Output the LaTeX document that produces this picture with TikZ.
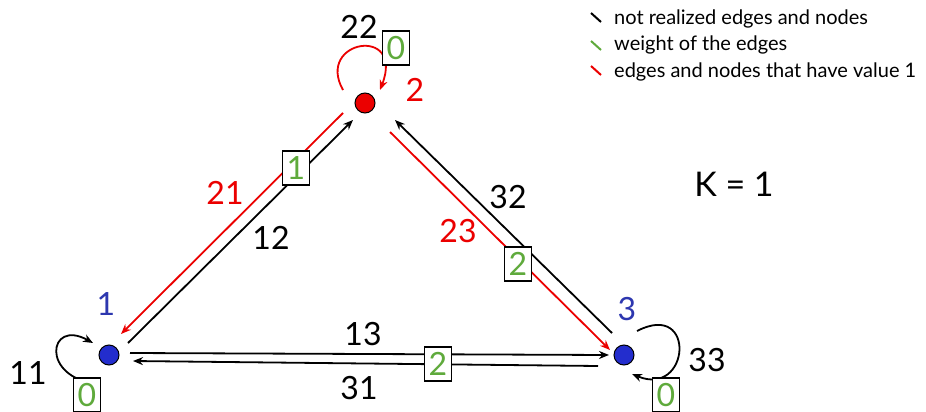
\documentclass[tikz,border=0pt]{standalone}
\usepackage{fontspec}
\setmainfont{Lato}
\usetikzlibrary{arrows.meta}
\definecolor{gr}{RGB}{95,170,60}
\definecolor{rd}{RGB}{235,0,0}
\definecolor{bl}{RGB}{35,45,205}
\definecolor{bltxt}{RGB}{45,55,175}
\begin{document}
\begin{tikzpicture}[x=1pt,y=-1pt,
  edge/.style={line width=1.8pt,-{Stealth[length=10pt,width=8pt]}},
  dot/.style={circle,draw=black,line width=1pt,minimum size=20pt,inner sep=0pt},
  num/.style={inner sep=0pt,font=\fontsize{32}{34}\selectfont},
  wbox/.style={draw=black,line width=1.2pt,fill=white,text=gr,minimum width=27pt,minimum height=34pt,inner sep=0pt,font=\fontsize{32}{34}\selectfont},
  leg/.style={anchor=west,inner sep=0pt,font=\fontsize{20}{22}\selectfont},
  legstroke/.style={line width=2pt}]
\useasboundingbox (0,0) rectangle (926,412);
% nodes
\node[dot,fill=bl] (n1) at (109,355) {};
\node[dot,fill=rd] (n2) at (365,103) {};
\node[dot,fill=bl] (n3) at (624,355) {};
% edge endpoints
\coordinate (a12) at (128,343); \coordinate (b12) at (353,120);
\coordinate (a21) at (343,113); \coordinate (b21) at (121,334);
\coordinate (a32) at (612,333); \coordinate (b32) at (395,120);
\coordinate (a23) at (390,132); \coordinate (b23) at (610,350);
\coordinate (a13) at (130,353); \coordinate (b13) at (609,355);
\coordinate (a31) at (598,366); \coordinate (b31) at (133,361);
\coordinate (l1a) at (98,384); \coordinate (l1b) at (93,343);
\coordinate (l2a) at (343,90); \coordinate (l2b) at (380,90);
\coordinate (l3a) at (637,331); \coordinate (l3b) at (632,374);
% edges
\draw[edge] (a12) -- (b12);
\draw[edge,rd] (a21) -- (b21);
\draw[edge] (a32) -- (b32);
\draw[edge,rd] (a23) -- (b23);
\draw[edge] (a13) -- (b13);
\draw[edge] (a31) -- (b31);
% loops
\draw[edge] (l1a) .. controls (40,378) and (48,318) .. (l1b);
\draw[edge,rd] (l2a) .. controls (315,40) and (405,25) .. (l2b);
\draw[edge] (l3a) .. controls (697,300) and (690,398) .. (l3b);
% weight boxes
\node[wbox] (w12) at (296,168) {1};
\node[wbox] (w23) at (518,264) {2};
\node[wbox] (w13) at (438,364) {2};
\node[wbox] (w11) at (87,395) {0};
\node[wbox] (w22) at (396,48) {0};
\node[wbox] (w33) at (666,395) {0};
% labels
\node[num,text=bltxt] (t1) at (106,304) {1};
\node[num,text=rd] (t2) at (415,90) {2};
\node[num,text=bltxt] (t3) at (627,309) {3};
\node[num] (t22) at (359,27) {22};
\node[num] (t12) at (271,238) {12};
\node[num,text=rd] (t21) at (225,193) {21};
\node[num] (t32) at (508,197) {32};
\node[num,text=rd] (t23) at (458,231) {23};
\node[num] (t13) at (363,334) {13};
\node[num] (t31) at (359,388) {31};
\node[num] (t11) at (28,373) {11};
\node[num] (t33) at (707,360) {33};
\node[inner sep=0pt,font=\fontsize{34}{36}\selectfont] (k) at (734,184) {K = 1};
% legend
\draw[legstroke] (591,13) -- (601,22);
\draw[legstroke,gr] (591,41) -- (601,50);
\draw[legstroke,rd] (591,66) -- (601,75);
\node[leg] (lg1) at (614,19) {not realized edges and nodes};
\node[leg] (lg2) at (614,45) {weight of the edges};
\node[leg] (lg3) at (614,72) {edges and nodes that have value 1};
\end{tikzpicture}
\end{document}
